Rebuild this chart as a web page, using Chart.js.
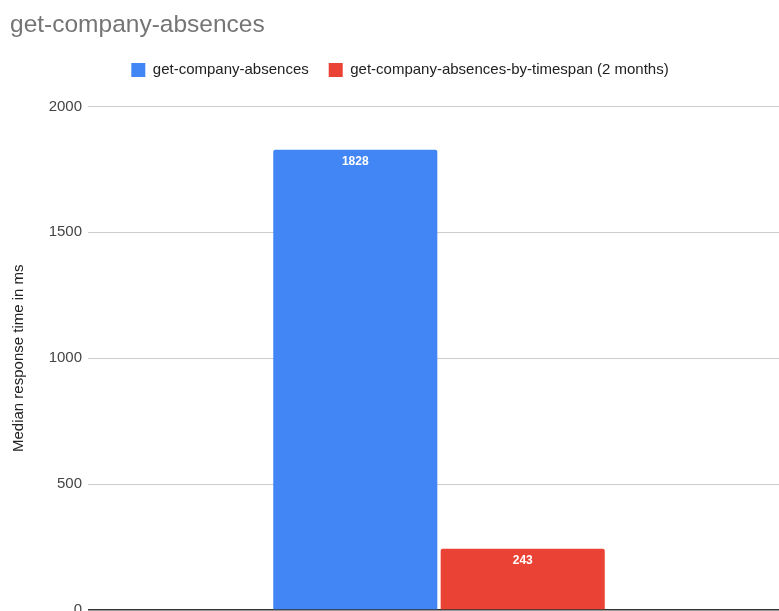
<!DOCTYPE html>
<html>
<head>
<meta charset="utf-8">
<script src="https://cdn.jsdelivr.net/npm/chart.js@4/dist/chart.umd.min.js"></script>
<style>
  html, body { margin: 0; padding: 0; background: #fff; overflow: hidden; }
  #wrap { position: absolute; left: 0; top: 0; width: 800px; height: 625px; }
</style>
</head>
<body>
<div id="wrap"><canvas id="chart"></canvas></div>
<script>
let categorias = [''];
let serieTodo = [1828];
let serieTimespan = [243];
let nombres = ['get-company-absences', 'get-company-absences-by-timespan (2 months)'];
let colores = ['#4285F4', '#EA4335'];
let ticksY = [0, 500, 1000, 1500, 2000];

let fuente = '"Liberation Sans", Arial, sans-serif';

// etiquetas de valor dentro de cada barra, arriba
let etiquetasBarras = {
    id: 'etiquetasBarras',
    afterDatasetsDraw(chart) {
        let c = chart.ctx;
        c.save();
        c.font = 'bold 12px ' + fuente;
        c.fillStyle = '#ffffff';
        c.textAlign = 'center';
        c.textBaseline = 'top';
        chart.data.datasets.forEach((ds, i) => {
            chart.getDatasetMeta(i).data.forEach((bar, j) => {
                c.fillText(String(ds.data[j]), bar.x, bar.y + 6);
            });
        });
        c.restore();
    }
};

// un poco más de aire entre la leyenda y el área del gráfico
let espacioLeyenda = {
    id: 'espacioLeyenda',
    beforeLayout(chart) {
        let ley = chart.legend;
        if (ley && !ley._conEspacio) {
            let fitOriginal = ley.fit;
            ley.fit = function () {
                fitOriginal.call(this);
                this.height += 19;
            };
            ley._conEspacio = true;
        }
    }
};

let datos = {
    labels: categorias,
    datasets: [
        {
            label: nombres[0],
            data: serieTodo,
            backgroundColor: colores[0],
            borderRadius: 2,
            borderSkipped: 'bottom',
        },
        {
            label: nombres[1],
            data: serieTimespan,
            backgroundColor: colores[1],
            borderRadius: 2,
            borderSkipped: 'bottom',
        }
    ]
};

let opciones = {
    responsive: true,
    maintainAspectRatio: false,
    animation: false,
    layout: { padding: { top: 8, left: 10, right: 10, bottom: 0 } },
    datasets: { bar: { categoryPercentage: 0.477, barPercentage: 0.98 } },
    plugins: {
        title: {
            display: true,
            text: 'get-company-absences',
            align: 'start',
            color: '#757575',
            font: { family: fuente, size: 24.5, weight: 'normal' },
            padding: { top: 3, bottom: 2 }
        },
        legend: {
            display: true,
            position: 'top',
            labels: {
                boxWidth: 14,
                boxHeight: 14,
                padding: 20,
                color: '#222',
                font: { family: fuente, size: 15 }
            }
        },
        tooltip: { enabled: false }
    },
    scales: {
        x: {
            ticks: { display: false },
            grid: { display: false, drawTicks: false },
            border: { display: false }
        },
        y: {
            min: 0,
            max: 2000,
            afterBuildTicks: (s) => { s.ticks = ticksY.map(v => ({ value: v })); },
            afterFit: (s) => { s.width = 78; },
            ticks: {
                padding: 6,
                color: '#444',
                font: { family: fuente, size: 15 },
                callback: (v) => String(v)
            },
            grid: {
                drawTicks: false,
                color: (ctx) => ctx.tick && ctx.tick.value === 0 ? '#333' : '#cccccc',
                lineWidth: (ctx) => ctx.tick && ctx.tick.value === 0 ? 1.5 : 1
            },
            border: { display: false },
            title: {
                display: true,
                text: 'Median response time in ms',
                color: '#222',
                padding: { top: 0, bottom: 0 },
                font: { family: fuente, size: 15 }
            }
        }
    }
};

let ctx = document.getElementById('chart');

let miGrafica = new Chart(ctx, {
    type: 'bar',
    data: datos,
    options: opciones,
    plugins: [espacioLeyenda, etiquetasBarras]
});
</script>
</body>
</html>
